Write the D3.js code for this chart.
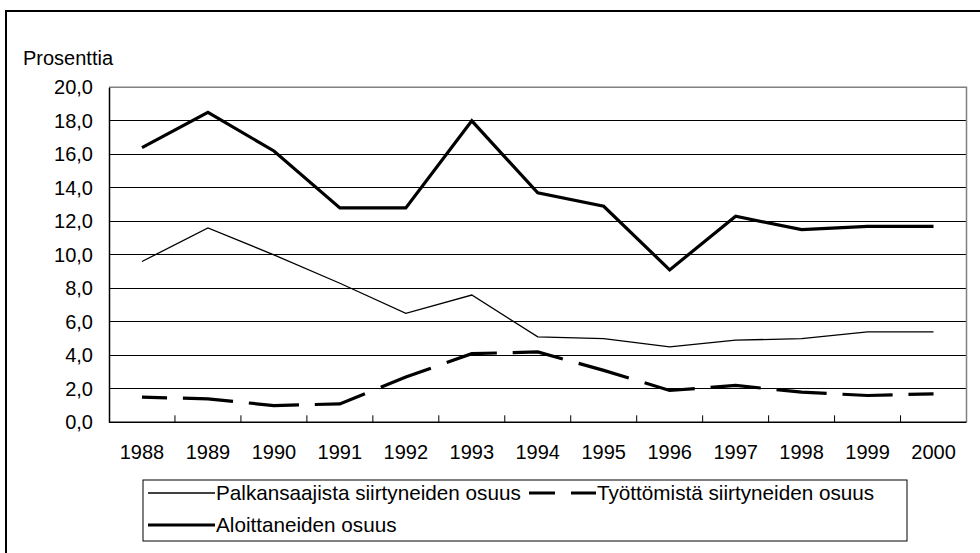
<!DOCTYPE html>
<html>
<head>
<meta charset="utf-8">
<script src="https://cdn.jsdelivr.net/npm/d3@7"></script>
<style>
  html, body { margin: 0; padding: 0; background: #fff; }
  svg { display: block; }
  text { font-family: "Liberation Sans", Arial, sans-serif; fill: #000; }
</style>
</head>
<body>
<svg id="chart" width="980" height="553"></svg>
<script>
// ---- data ----
const years = ["1988","1989","1990","1991","1992","1993","1994","1995","1996","1997","1998","1999","2000"];
const palkansaajista = [9.6, 11.6, 10.0, 8.3, 6.5, 7.6, 5.1, 5.0, 4.5, 4.9, 5.0, 5.4, 5.4];
const tyottomista    = [1.5, 1.4, 1.0, 1.1, 2.7, 4.1, 4.2, 3.1, 1.9, 2.2, 1.8, 1.6, 1.7];
const aloittaneiden  = [16.4, 18.5, 16.2, 12.8, 12.8, 18.0, 13.7, 12.9, 9.1, 12.3, 11.5, 11.7, 11.7];
const yTicks = [0, 2, 4, 6, 8, 10, 12, 14, 16, 18, 20];
const seriesNames = ["Palkansaajista siirtyneiden osuus", "Työttömistä siirtyneiden osuus", "Aloittaneiden osuus"];
const yTitle = "Prosenttia";

// ---- layout ----
const svg = d3.select("#chart");
const plot = { left: 109, right: 966.5, top: 87.3, bottom: 422.3 };
const fontSize = 20;

const x = d3.scaleBand().domain(years).range([plot.left, plot.right]).padding(0);
const step = x.bandwidth();
const cx = d => x(d) + step / 2;
const y = d3.scaleLinear().domain([0, 20]).range([plot.bottom, plot.top]);

// outer frame
svg.append("rect").attr("x", 6).attr("y", 11).attr("width", 1000).attr("height", 600)
  .attr("fill", "none").attr("stroke", "#000").attr("stroke-width", 2);

// gridlines
svg.append("g").selectAll("line").data(yTicks.filter(v => v > 0 && v < 20)).join("line")
  .attr("x1", plot.left).attr("x2", plot.right)
  .attr("y1", d => y(d)).attr("y2", d => y(d))
  .attr("stroke", "#000").attr("stroke-width", 1).attr("shape-rendering", "crispEdges");

// plot border top/right gray
svg.append("path")
  .attr("d", `M${plot.left},${y(20)}H${plot.right}V${plot.bottom}`)
  .attr("fill", "none").attr("stroke", "#808080").attr("stroke-width", 1.5);

// y axis
const yAxis = svg.append("g").attr("transform", `translate(${plot.left},0)`)
  .call(d3.axisLeft(y).tickValues(yTicks).tickSize(0).tickPadding(16)
    .tickFormat(d => d.toFixed(1).replace(".", ",")));
yAxis.select(".domain").attr("stroke", "#000").attr("stroke-width", 1.5);
yAxis.selectAll("text").attr("font-size", fontSize).attr("font-family", "Liberation Sans, Arial, sans-serif");

// x axis
const xAxis = svg.append("g").attr("transform", `translate(0,${plot.bottom})`)
  .call(d3.axisBottom(x).tickSize(0).tickPadding(22.5));
xAxis.select(".domain").remove();
xAxis.selectAll("text").attr("font-size", fontSize).attr("font-family", "Liberation Sans, Arial, sans-serif");
svg.append("line").attr("x1", plot.left).attr("x2", plot.right)
  .attr("y1", plot.bottom).attr("y2", plot.bottom).attr("stroke", "#000").attr("stroke-width", 1.5);
// inside ticks at category boundaries
svg.append("g").selectAll("line").data(years.slice(1)).join("line")
  .attr("x1", d => x(d)).attr("x2", d => x(d))
  .attr("y1", plot.bottom).attr("y2", plot.bottom - 7)
  .attr("stroke", "#000").attr("stroke-width", 1);

// y title
svg.append("text").attr("x", 23).attr("y", 65).attr("font-size", fontSize).text(yTitle);

// lines
const line = d3.line().x(d => d[0]).y(d => d[1]);
const pts = vals => vals.map((v, i) => [cx(years[i]), y(v)]);

svg.append("path").attr("d", line(pts(palkansaajista)))
  .attr("fill", "none").attr("stroke", "#000").attr("stroke-width", 1.3).attr("stroke-linejoin", "miter");

svg.append("path").attr("d", line(pts(aloittaneiden)))
  .attr("fill", "none").attr("stroke", "#000").attr("stroke-width", 3.2).attr("stroke-linejoin", "miter");

// dashed series: one dash centred on each data point
function interpAt(p, xv) {
  for (let i = 0; i < p.length - 1; i++) {
    if (xv >= p[i][0] && xv <= p[i + 1][0]) {
      const t = (xv - p[i][0]) / (p[i + 1][0] - p[i][0]);
      return [xv, p[i][1] + t * (p[i + 1][1] - p[i][1])];
    }
  }
  return xv < p[0][0] ? p[0] : p[p.length - 1];
}
const tp = pts(tyottomista);
const half = step * 0.38;
const dashes = tp.map(pt => {
  const a = Math.max(tp[0][0], pt[0] - half), b = Math.min(tp[tp.length - 1][0], pt[0] + half);
  const seg = [interpAt(tp, a)];
  tp.forEach(q => { if (q[0] > a && q[0] < b) seg.push(q); });
  seg.push(interpAt(tp, b));
  return seg;
});
svg.append("g").selectAll("path").data(dashes).join("path")
  .attr("d", d => line(d)).attr("fill", "none").attr("stroke", "#000")
  .attr("stroke-width", 3.2).attr("stroke-linejoin", "miter");

// legend
const lg = svg.append("g");
lg.append("rect").attr("x", 143).attr("y", 480).attr("width", 764).attr("height", 61)
  .attr("fill", "#fff").attr("stroke", "#000").attr("stroke-width", 1);
const legendItems = [
  { name: seriesNames[0], x: 148, y: 493, w: 1.3, dash: null },
  { name: seriesNames[1], x: 529, y: 493, w: 3.2, dash: "26,16,26" },
  { name: seriesNames[2], x: 148, y: 525, w: 3.2, dash: null }
];
legendItems.forEach(it => {
  lg.append("line").attr("x1", it.x).attr("x2", it.x + 67).attr("y1", it.y).attr("y2", it.y)
    .attr("stroke", "#000").attr("stroke-width", it.w).attr("stroke-dasharray", it.dash);
  lg.append("text").attr("x", it.x + 68).attr("y", it.y + 7).attr("font-size", 20.7).text(it.name);
});
</script>
</body>
</html>
